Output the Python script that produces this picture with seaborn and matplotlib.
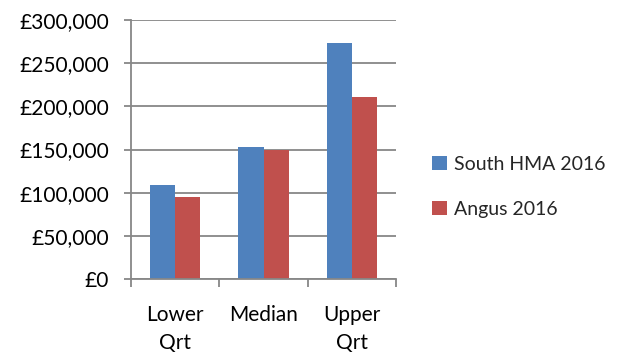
import matplotlib
matplotlib.use("Agg")
import matplotlib.pyplot as plt
import seaborn as sns
import pandas as pd
from matplotlib.ticker import FuncFormatter, FixedLocator

categories = ["Lower\nQrt", "Median", "Upper\nQrt"]
series_names = ["South HMA 2016", "Angus 2016"]
south_values = [109000, 153000, 273000]
angus_values = [95000, 150000, 211000]
colors = ["#4F81BD", "#C0504D"]

df = pd.DataFrame({
    "category": categories * 2,
    "series": [series_names[0]] * 3 + [series_names[1]] * 3,
    "value": south_values + angus_values,
})

sns.set_style("white")
plt.rcParams["font.family"] = ["Lato", "DejaVu Sans"]

fig = plt.figure(figsize=(6.21, 3.58), dpi=100)
ax = fig.add_axes([131 / 621, 1 - 279 / 358, (396 - 131) / 621, (279 - 20) / 358])

sns.barplot(data=df, x="category", y="value", hue="series", palette=colors,
            width=0.57, gap=0, linewidth=0, saturation=1, ax=ax, legend=True)

ax.set_ylim(0, 300000)
ax.set_xlim(-0.5, 2.5)
ax.set_yticks(range(0, 300001, 50000))
ax.yaxis.set_major_formatter(FuncFormatter(lambda v, p: f"£{int(v):,}"))
ax.grid(axis="y", color="#878787", linewidth=1.3)
ax.set_axisbelow(True)
for s in ["top", "right"]:
    ax.spines[s].set_visible(False)
for s in ["left", "bottom"]:
    ax.spines[s].set_color("#878787")
    ax.spines[s].set_linewidth(1.3)

ax.tick_params(axis="y", which="major", length=5, width=1.3, color="#878787",
               pad=11, labelsize=15, labelcolor="black", left=True)
ax.tick_params(axis="x", which="major", length=0, pad=19, labelsize=15, labelcolor="black")
ax.xaxis.set_minor_locator(FixedLocator([-0.5, 0.5, 1.5, 2.5]))
ax.tick_params(axis="x", which="minor", length=6, width=1.3, color="#878787", bottom=True)
for lab in ax.get_xticklabels():
    lab.set_linespacing(1.45)

ax.set_xlabel("")
ax.set_ylabel("")

leg = ax.legend(loc="center left", bbox_to_anchor=(432 / 621, 1 - 187 / 358),
                bbox_transform=fig.transFigure, frameon=False, fontsize=14,
                handlelength=0.75, handleheight=0.75, handletextpad=0.4,
                labelspacing=1.45, borderpad=0, borderaxespad=0)

fig.savefig("out.png", dpi=100)
